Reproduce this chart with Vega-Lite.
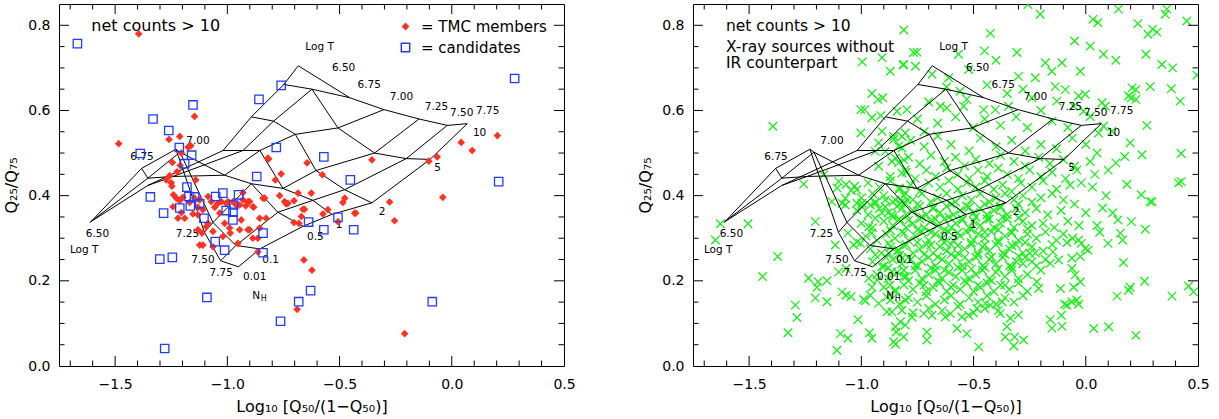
{
"$schema":"https://vega.github.io/schema/vega-lite/v6.json",
"background":"white",
"padding":{"left":3,"top":3,"right":0,"bottom":0},
"spacing":61,
"config":{
 "view":{"stroke":"black","strokeWidth":1},
 "axis":{"domain":false,"ticks":false,"labelColor":"black","titleColor":"black","labelFont":"DejaVu Sans","titleFont":"DejaVu Sans","labelFontSize":14,"titleFontSize":16,"titleFontWeight":"normal","grid":false,"labelFlush":false,"labelOverlap":false}
},
"datasets":{
 "xa":[{"v":-1.5},{"v":-1.0},{"v":-0.5},{"v":0.0}],
 "xb":[{"v":-1.7},{"v":-1.6},{"v":-1.4},{"v":-1.3},{"v":-1.2},{"v":-1.1},{"v":-0.9},{"v":-0.8},{"v":-0.7},{"v":-0.6},{"v":-0.4},{"v":-0.3},{"v":-0.2},{"v":-0.1},{"v":0.1},{"v":0.2},{"v":0.3},{"v":0.4}],
 "ya":[{"v":0.2},{"v":0.4},{"v":0.6},{"v":0.8}],
 "yb":[{"v":0.05},{"v":0.1},{"v":0.15},{"v":0.25},{"v":0.3},{"v":0.35},{"v":0.45},{"v":0.5},{"v":0.55},{"v":0.65},{"v":0.7},{"v":0.75}],
 "grid":[
  {"nh":10,"t":6.5,"x":-0.684,"y":0.705},{"nh":10,"t":6.75,"x":-0.455,"y":0.630},{"nh":10,"t":7.0,"x":-0.302,"y":0.602},{"nh":10,"t":7.25,"x":-0.146,"y":0.580},{"nh":10,"t":7.5,"x":-0.020,"y":0.565},{"nh":10,"t":7.75,"x":0.069,"y":0.569},
  {"nh":5,"t":6.5,"x":-0.748,"y":0.661},{"nh":5,"t":6.75,"x":-0.623,"y":0.650},{"nh":5,"t":7.0,"x":-0.507,"y":0.559},{"nh":5,"t":7.25,"x":-0.344,"y":0.500},{"nh":5,"t":7.5,"x":-0.203,"y":0.487},{"nh":5,"t":7.75,"x":-0.097,"y":0.485},
  {"nh":2,"t":6.5,"x":-0.893,"y":0.585},{"nh":2,"t":6.75,"x":-0.794,"y":0.575},{"nh":2,"t":7.0,"x":-0.697,"y":0.544},{"nh":2,"t":7.25,"x":-0.605,"y":0.459},{"nh":2,"t":7.5,"x":-0.477,"y":0.414},{"nh":2,"t":7.75,"x":-0.356,"y":0.383},
  {"nh":1,"t":6.5,"x":-1.019,"y":0.506},{"nh":1,"t":6.75,"x":-0.930,"y":0.506},{"nh":1,"t":7.0,"x":-0.855,"y":0.506},{"nh":1,"t":7.25,"x":-0.752,"y":0.417},{"nh":1,"t":7.5,"x":-0.619,"y":0.389},{"nh":1,"t":7.75,"x":-0.534,"y":0.356},
  {"nh":0.5,"t":6.5,"x":-1.354,"y":0.424},{"nh":0.5,"t":6.75,"x":-1.242,"y":0.445},{"nh":0.5,"t":7.0,"x":-1.012,"y":0.448},{"nh":0.5,"t":7.25,"x":-0.893,"y":0.428},{"nh":0.5,"t":7.5,"x":-0.775,"y":0.361},{"nh":0.5,"t":7.75,"x":-0.663,"y":0.328},
  {"nh":0.1,"t":6.5,"x":-1.608,"y":0.339},{"nh":0.1,"t":6.75,"x":-1.354,"y":0.441},{"nh":0.1,"t":7.0,"x":-1.211,"y":0.502},{"nh":0.1,"t":7.25,"x":-1.064,"y":0.337},{"nh":0.1,"t":7.5,"x":-0.962,"y":0.283},{"nh":0.1,"t":7.75,"x":-0.855,"y":0.275},
  {"nh":0.01,"t":6.5,"x":-1.611,"y":0.337},{"nh":0.01,"t":6.75,"x":-1.382,"y":0.464},{"nh":0.01,"t":7.0,"x":-1.229,"y":0.509},{"nh":0.01,"t":7.25,"x":-1.102,"y":0.314},{"nh":0.01,"t":7.5,"x":-1.030,"y":0.247},{"nh":0.01,"t":7.75,"x":-0.950,"y":0.233}
 ],
 "glabels":[
  {"x":-0.589,"y":0.749,"text":"Log T"},{"x":-0.482,"y":0.699,"text":"6.50"},{"x":-0.368,"y":0.659,"text":"6.75"},{"x":-0.224,"y":0.631,"text":"7.00"},{"x":-0.068,"y":0.608,"text":"7.25"},{"x":0.044,"y":0.594,"text":"7.50"},{"x":0.160,"y":0.598,"text":"7.75"},
  {"x":0.124,"y":0.547,"text":"10"},{"x":-0.063,"y":0.465,"text":"5"},{"x":-0.310,"y":0.361,"text":"2"},{"x":-0.502,"y":0.332,"text":"1"},{"x":-0.608,"y":0.304,"text":"0.5"},{"x":-0.807,"y":0.248,"text":"0.1"},{"x":-0.878,"y":0.210,"text":"0.01"},{"x":-0.871,"y":0.165,"text":"N"},
  {"x":-1.027,"y":0.219,"text":"7.75"},{"x":-1.109,"y":0.249,"text":"7.50"},{"x":-1.178,"y":0.310,"text":"7.25"},{"x":-1.579,"y":0.310,"text":"6.50"},{"x":-1.638,"y":0.272,"text":"Log T"},{"x":-1.380,"y":0.491,"text":"6.75"},{"x":-1.131,"y":0.529,"text":"7.00"}
 ],
 "sublabels":[{"x":-0.838,"y":0.158,"text":"H"}],
 "textleft":[{"x":-1.606,"y":0.798,"text":"net counts > 10"}],
 "textright":[{"x":-1.603,"y":0.798,"text":"net counts > 10"},{"x":-1.603,"y":0.748,"text":"X-ray sources without"},{"x":-1.603,"y":0.711,"text":"IR counterpart"}],
 "pts":[
  {"s":"m","x":-1.395,"y":0.780},{"s":"m","x":-1.146,"y":0.586},{"s":"m","x":-1.484,"y":0.522},{"s":"m","x":-1.212,"y":0.539},{"s":"m","x":-1.260,"y":0.532},{"s":"m","x":-1.163,"y":0.517},{"s":"m","x":-1.175,"y":0.514},{"s":"m","x":-1.205,"y":0.500},{"s":"m","x":-1.245,"y":0.478},{"s":"m","x":-1.224,"y":0.456},
  {"s":"m","x":-1.210,"y":0.471},{"s":"m","x":-1.257,"y":0.447},{"s":"m","x":-1.250,"y":0.430},{"s":"m","x":-1.272,"y":0.437},{"s":"m","x":-1.141,"y":0.437},{"s":"m","x":-1.247,"y":0.422},{"s":"m","x":-1.240,"y":0.402},{"s":"m","x":-1.227,"y":0.394},{"s":"m","x":-1.212,"y":0.388},{"s":"m","x":-1.198,"y":0.396},
  {"s":"m","x":-1.168,"y":0.384},{"s":"m","x":-1.146,"y":0.394},{"s":"m","x":-1.123,"y":0.390},{"s":"m","x":-1.131,"y":0.373},{"s":"m","x":-1.242,"y":0.374},{"s":"m","x":-1.205,"y":0.360},{"s":"m","x":-1.220,"y":0.347},{"s":"m","x":-1.153,"y":0.357},{"s":"m","x":-1.109,"y":0.367},{"s":"m","x":-1.086,"y":0.398},
  {"s":"m","x":-1.072,"y":0.386},{"s":"m","x":-1.056,"y":0.373},{"s":"m","x":-1.034,"y":0.359},{"s":"m","x":-1.086,"y":0.335},{"s":"m","x":-1.131,"y":0.320},{"s":"m","x":-1.064,"y":0.316},{"s":"m","x":-1.109,"y":0.284},{"s":"m","x":-1.113,"y":0.312},{"s":"m","x":-1.094,"y":0.327},{"s":"m","x":-1.064,"y":0.280},
  {"s":"m","x":-1.042,"y":0.382},{"s":"m","x":-0.997,"y":0.386},{"s":"m","x":-0.975,"y":0.386},{"s":"m","x":-0.945,"y":0.378},{"s":"m","x":-0.918,"y":0.376},{"s":"m","x":-0.901,"y":0.386},{"s":"m","x":-0.883,"y":0.373},{"s":"m","x":-0.930,"y":0.390},{"s":"m","x":-1.012,"y":0.335},{"s":"m","x":-0.990,"y":0.324},
  {"s":"m","x":-0.945,"y":0.320},{"s":"m","x":-0.901,"y":0.320},{"s":"m","x":-0.886,"y":0.300},{"s":"m","x":-0.856,"y":0.324},{"s":"m","x":-0.827,"y":0.347},{"s":"m","x":-0.856,"y":0.347},{"s":"m","x":-0.834,"y":0.394},{"s":"m","x":-0.819,"y":0.488},{"s":"m","x":-0.864,"y":0.268},{"s":"m","x":-0.953,"y":0.288},
  {"s":"m","x":-0.987,"y":0.312},{"s":"m","x":-0.938,"y":0.343},{"s":"m","x":-1.020,"y":0.304},{"s":"m","x":-0.864,"y":0.300},{"s":"m","x":-0.841,"y":0.394},{"s":"m","x":-0.767,"y":0.400},{"s":"m","x":-0.738,"y":0.381},{"s":"m","x":-0.685,"y":0.406},{"s":"m","x":-0.703,"y":0.388},{"s":"m","x":-0.626,"y":0.406},
  {"s":"m","x":-0.656,"y":0.368},{"s":"m","x":-0.574,"y":0.357},{"s":"m","x":-0.552,"y":0.367},{"s":"m","x":-0.485,"y":0.384},{"s":"m","x":-0.477,"y":0.394},{"s":"m","x":-0.433,"y":0.359},{"s":"m","x":-0.277,"y":0.385},{"s":"m","x":-0.255,"y":0.341},{"s":"m","x":-0.659,"y":0.249},{"s":"m","x":-0.623,"y":0.225},
  {"s":"m","x":-0.689,"y":0.133},{"s":"m","x":-0.210,"y":0.076},{"s":"m","x":-0.816,"y":0.486},{"s":"m","x":-0.760,"y":0.451},{"s":"m","x":-0.786,"y":0.437},{"s":"m","x":-0.645,"y":0.477},{"s":"m","x":-0.577,"y":0.449},{"s":"m","x":-0.356,"y":0.484},{"s":"m","x":0.203,"y":0.541},{"s":"m","x":0.042,"y":0.525},
  {"s":"m","x":0.091,"y":0.506},{"s":"m","x":-0.065,"y":0.491},{"s":"m","x":-0.102,"y":0.481},{"s":"m","x":-0.040,"y":0.396},{"s":"m","x":-0.730,"y":0.382},{"s":"m","x":-0.663,"y":0.368},{"s":"m","x":-0.670,"y":0.351},{"s":"m","x":-0.703,"y":0.337},{"s":"m","x":-0.681,"y":0.335},{"s":"m","x":-0.428,"y":0.359},
  {"s":"m","x":-0.507,"y":0.339},{"s":"m","x":-1.190,"y":0.347},{"s":"m","x":-1.131,"y":0.355},{"s":"m","x":-1.123,"y":0.284},{"s":"m","x":-0.908,"y":0.386},{"s":"m","x":-0.886,"y":0.374},{"s":"m","x":-0.960,"y":0.378},{"s":"m","x":-1.005,"y":0.382},{"s":"m","x":-1.027,"y":0.386},{"s":"m","x":-0.930,"y":0.407},
  {"s":"m","x":-0.745,"y":0.386},{"s":"m","x":-0.908,"y":0.320},
  {"s":"c","x":-1.668,"y":0.757},{"s":"c","x":-0.760,"y":0.659},{"s":"c","x":-0.859,"y":0.626},{"s":"c","x":-1.153,"y":0.613},{"s":"c","x":-1.331,"y":0.580},{"s":"c","x":-1.261,"y":0.553},{"s":"c","x":-1.214,"y":0.513},{"s":"c","x":-1.159,"y":0.495},{"s":"c","x":-1.388,"y":0.499},{"s":"c","x":-1.190,"y":0.475},
  {"s":"c","x":-0.782,"y":0.513},{"s":"c","x":-0.869,"y":0.445},{"s":"c","x":-1.180,"y":0.420},{"s":"c","x":-1.343,"y":0.397},{"s":"c","x":-1.171,"y":0.398},{"s":"c","x":-1.146,"y":0.397},{"s":"c","x":-1.123,"y":0.381},{"s":"c","x":-1.052,"y":0.398},{"s":"c","x":-1.020,"y":0.406},{"s":"c","x":-0.950,"y":0.402},
  {"s":"c","x":0.280,"y":0.675},{"s":"c","x":0.209,"y":0.433},{"s":"c","x":-0.570,"y":0.491},{"s":"c","x":-0.452,"y":0.437},{"s":"c","x":-0.507,"y":0.349},{"s":"c","x":-0.638,"y":0.338},{"s":"c","x":-0.570,"y":0.320},{"s":"c","x":-0.437,"y":0.320},{"s":"c","x":-0.629,"y":0.177},{"s":"c","x":-0.682,"y":0.151},
  {"s":"c","x":-0.087,"y":0.151},{"s":"c","x":-1.284,"y":0.359},{"s":"c","x":-1.212,"y":0.371},{"s":"c","x":-1.165,"y":0.376},{"s":"c","x":-1.104,"y":0.347},{"s":"c","x":-1.054,"y":0.292},{"s":"c","x":-1.012,"y":0.272},{"s":"c","x":-1.005,"y":0.365},{"s":"c","x":-0.975,"y":0.361},{"s":"c","x":-0.975,"y":0.343},
  {"s":"c","x":-0.972,"y":0.378},{"s":"c","x":-0.841,"y":0.312},{"s":"c","x":-0.841,"y":0.266},{"s":"c","x":-1.301,"y":0.251},{"s":"c","x":-1.245,"y":0.255},{"s":"c","x":-1.091,"y":0.161},{"s":"c","x":-0.763,"y":0.105},{"s":"c","x":-1.279,"y":0.041}
 ],
 "green":[
  {"x":-0.811,"y":0.789},{"x":-0.996,"y":0.714},{"x":-0.908,"y":0.724},{"x":-0.871,"y":0.692},{"x":-0.815,"y":0.707},{"x":-0.953,"y":0.640},{"x":-0.926,"y":0.626},{"x":-0.905,"y":0.630},{"x":-1.002,"y":0.602},{"x":-0.985,"y":0.602},
  {"x":-0.953,"y":0.583},{"x":-0.913,"y":0.588},{"x":-0.841,"y":0.598},{"x":-0.797,"y":0.602},{"x":-1.394,"y":0.563},{"x":-1.002,"y":0.547},{"x":-0.908,"y":0.551},{"x":-0.856,"y":0.539},{"x":-0.819,"y":0.539},{"x":-0.804,"y":0.547},
  {"x":-0.923,"y":0.524},{"x":-0.893,"y":0.504},{"x":-0.938,"y":0.504},{"x":-0.856,"y":0.532},{"x":-0.834,"y":0.516},{"x":-0.819,"y":0.512},{"x":-0.923,"y":0.469},{"x":-0.864,"y":0.480},{"x":-0.848,"y":0.488},{"x":-0.834,"y":0.477},
  {"x":-0.811,"y":0.484},{"x":-0.819,"y":0.453},{"x":-0.871,"y":0.445},{"x":-0.804,"y":0.461},{"x":-1.257,"y":0.427},{"x":-1.168,"y":0.449},{"x":-1.101,"y":0.433},{"x":-1.068,"y":0.426},{"x":-1.108,"y":0.418},{"x":-1.030,"y":0.422},
  {"x":-1.020,"y":0.414},{"x":-1.045,"y":0.412},{"x":-1.071,"y":0.394},{"x":-1.086,"y":0.382},{"x":-1.020,"y":0.382},{"x":-0.997,"y":0.382},{"x":-0.960,"y":0.378},{"x":-0.938,"y":0.386},{"x":-0.893,"y":0.390},{"x":-0.848,"y":0.390},
  {"x":-0.826,"y":0.382},{"x":-0.797,"y":0.390},{"x":-0.831,"y":0.418},{"x":-0.804,"y":0.406},{"x":-0.258,"y":0.849},{"x":-0.203,"y":0.826},{"x":-0.425,"y":0.781},{"x":-0.767,"y":0.736},{"x":-0.752,"y":0.737},{"x":-0.811,"y":0.708},
  {"x":-0.759,"y":0.704},{"x":-0.567,"y":0.732},{"x":-0.451,"y":0.740},{"x":-0.400,"y":0.718},{"x":-0.307,"y":0.736},{"x":0.146,"y":0.838},{"x":0.032,"y":0.814},{"x":0.054,"y":0.806},{"x":0.232,"y":0.804},{"x":0.354,"y":0.826},
  {"x":0.361,"y":0.838},{"x":0.450,"y":0.810},{"x":0.298,"y":0.791},{"x":0.317,"y":0.784},{"x":0.277,"y":0.779},{"x":-0.050,"y":0.763},{"x":0.020,"y":0.751},{"x":0.079,"y":0.732},{"x":0.134,"y":0.718},{"x":0.268,"y":0.732},
  {"x":0.339,"y":0.708},{"x":0.387,"y":0.700},{"x":0.495,"y":0.683},{"x":0.287,"y":0.656},{"x":0.381,"y":0.651},{"x":0.421,"y":0.622},{"x":0.206,"y":0.653},{"x":0.223,"y":0.649},{"x":0.191,"y":0.634},{"x":0.203,"y":0.630},
  {"x":0.223,"y":0.626},{"x":0.272,"y":0.565},{"x":0.198,"y":0.524},{"x":0.250,"y":0.496},{"x":0.425,"y":0.499},{"x":0.173,"y":0.492},{"x":0.134,"y":0.477},{"x":0.425,"y":0.433},{"x":0.413,"y":0.430},{"x":0.183,"y":0.426},
  {"x":0.247,"y":0.402},{"x":0.295,"y":0.386},{"x":-0.685,"y":0.685},{"x":-0.611,"y":0.677},{"x":-0.522,"y":0.696},{"x":-0.530,"y":0.626},{"x":-0.648,"y":0.610},{"x":-0.619,"y":0.606},{"x":-0.544,"y":0.610},{"x":-0.455,"y":0.602},
  {"x":-0.403,"y":0.602},{"x":-0.344,"y":0.610},{"x":-0.225,"y":0.677},{"x":-0.180,"y":0.712},{"x":-0.151,"y":0.692},{"x":-0.106,"y":0.712},{"x":-0.024,"y":0.692},{"x":-0.091,"y":0.649},{"x":-0.136,"y":0.656},{"x":-0.129,"y":0.622},
  {"x":-0.032,"y":0.634},{"x":-0.002,"y":0.638},{"x":-0.054,"y":0.610},{"x":-0.010,"y":0.598},{"x":0.072,"y":0.618},{"x":0.087,"y":0.610},{"x":0.020,"y":0.586},{"x":0.057,"y":0.547},{"x":0.079,"y":0.563},{"x":0.116,"y":0.551},
  {"x":-1.628,"y":0.334},{"x":-1.505,"y":0.334},{"x":-1.650,"y":0.296},{"x":-1.373,"y":0.257},{"x":-1.440,"y":0.210},{"x":-1.235,"y":0.206},{"x":-1.193,"y":0.198},{"x":-1.198,"y":0.185},{"x":-1.153,"y":0.200},{"x":-1.205,"y":0.160},
  {"x":-1.153,"y":0.151},{"x":-1.294,"y":0.143},{"x":-1.287,"y":0.114},{"x":-1.327,"y":0.078},{"x":-1.205,"y":0.339},{"x":-1.116,"y":0.284},{"x":-1.101,"y":0.221},{"x":-1.086,"y":0.174},{"x":-1.068,"y":0.166},{"x":-1.046,"y":0.163},
  {"x":-1.093,"y":0.076},{"x":-1.060,"y":0.065},{"x":-1.109,"y":0.037},{"x":-1.015,"y":0.109},{"x":-0.990,"y":0.156},{"x":-0.982,"y":0.153},{"x":-0.960,"y":0.166},{"x":-0.953,"y":0.185},{"x":-0.964,"y":0.078},{"x":-0.953,"y":0.065},
  {"x":-0.886,"y":0.127},{"x":-0.864,"y":0.127},{"x":-0.848,"y":0.092},{"x":-0.845,"y":0.080},{"x":-0.856,"y":0.057},{"x":-0.848,"y":0.051},{"x":-0.811,"y":0.068},{"x":-1.019,"y":0.291},{"x":-1.060,"y":0.312},{"x":-1.034,"y":0.284},
  {"x":-1.004,"y":0.288},{"x":-1.068,"y":0.229},{"x":-0.938,"y":0.261},{"x":-0.878,"y":0.265},{"x":-0.834,"y":0.272},{"x":-0.819,"y":0.253},{"x":-0.908,"y":0.233},{"x":-0.864,"y":0.221},{"x":-0.967,"y":0.206},{"x":-0.930,"y":0.202},
  {"x":-0.871,"y":0.190},{"x":-0.848,"y":0.178},{"x":-0.811,"y":0.210},{"x":-0.804,"y":0.155},{"x":-0.819,"y":0.131},{"x":-0.886,"y":0.162},{"x":-0.923,"y":0.147},{"x":-0.967,"y":0.327},{"x":-0.953,"y":0.312},{"x":-0.938,"y":0.347},
  {"x":-0.908,"y":0.359},{"x":-0.864,"y":0.355},{"x":-0.834,"y":0.343},{"x":-0.819,"y":0.371},{"x":-0.804,"y":0.382},{"x":-0.938,"y":0.382},{"x":-0.893,"y":0.374},{"x":-0.997,"y":0.374},{"x":-1.071,"y":0.378},{"x":-1.131,"y":0.386},
  {"x":0.075,"y":0.371},{"x":0.287,"y":0.386},{"x":0.143,"y":0.343},{"x":0.203,"y":0.339},{"x":0.062,"y":0.314},{"x":0.099,"y":0.288},{"x":0.154,"y":0.312},{"x":0.164,"y":0.296},{"x":0.265,"y":0.321},{"x":0.168,"y":0.243},
  {"x":0.262,"y":0.199},{"x":0.198,"y":0.185},{"x":0.191,"y":0.178},{"x":0.139,"y":0.164},{"x":0.384,"y":0.164},{"x":0.458,"y":0.188},{"x":0.480,"y":0.174},{"x":0.035,"y":0.088},{"x":0.102,"y":0.092},{"x":0.223,"y":0.072},
  {"x":-0.106,"y":0.093},{"x":-0.158,"y":0.109},{"x":-0.151,"y":0.089},{"x":-0.109,"y":0.119},{"x":-0.094,"y":0.145},{"x":-0.084,"y":0.143},{"x":-0.062,"y":0.151},{"x":-0.040,"y":0.155},{"x":-0.032,"y":0.145},{"x":-0.113,"y":0.182},
  {"x":-0.054,"y":0.185},{"x":-0.024,"y":0.198},{"x":-0.047,"y":0.214},{"x":-0.062,"y":0.229},{"x":-0.024,"y":0.257},{"x":-0.062,"y":0.253},{"x":-0.002,"y":0.276},{"x":-0.020,"y":0.288},{"x":0.010,"y":0.272},{"x":-0.059,"y":0.300},
  {"x":-0.084,"y":0.290},{"x":-0.032,"y":0.296},{"x":-0.146,"y":0.268},{"x":-0.121,"y":0.249},{"x":-0.158,"y":0.241},{"x":-0.225,"y":0.265},{"x":-0.240,"y":0.245},{"x":-0.218,"y":0.198},{"x":-0.210,"y":0.182},{"x":-0.317,"y":0.068},
  {"x":-0.277,"y":0.061},{"x":-0.321,"y":0.047},{"x":-0.359,"y":0.068},{"x":-0.351,"y":0.092},{"x":-0.336,"y":0.112},{"x":-0.381,"y":0.123},{"x":-0.477,"y":0.045},{"x":-0.530,"y":0.076},{"x":-0.574,"y":0.088},{"x":-0.708,"y":0.080},
  {"x":-0.708,"y":0.061},{"x":-0.722,"y":0.123},{"x":-0.685,"y":0.119},{"x":-0.626,"y":0.115},{"x":-0.603,"y":0.123},{"x":-0.552,"y":0.115},{"x":-0.522,"y":0.119},{"x":-0.485,"y":0.135},{"x":-0.447,"y":0.147},{"x":-0.425,"y":0.143},
  {"x":-0.373,"y":0.151},{"x":-0.774,"y":0.115},{"x":-0.804,"y":0.096},{"x":-0.826,"y":0.104},
  {"x":-0.78,"y":0.53},{"x":-0.72,"y":0.515},{"x":-0.66,"y":0.54},{"x":-0.6,"y":0.52},{"x":-0.52,"y":0.505},{"x":-0.47,"y":0.535},{"x":-0.4,"y":0.515},{"x":-0.33,"y":0.53},{"x":-0.27,"y":0.505},{"x":-0.2,"y":0.52},{"x":-0.13,"y":0.51},{"x":-0.06,"y":0.535},
  {"x":-0.79,"y":0.49},{"x":-0.74,"y":0.475},{"x":-0.69,"y":0.495},{"x":-0.63,"y":0.48},{"x":-0.58,"y":0.49},{"x":-0.54,"y":0.47},{"x":-0.49,"y":0.485},{"x":-0.43,"y":0.475},{"x":-0.38,"y":0.495},{"x":-0.32,"y":0.48},{"x":-0.27,"y":0.47},{"x":-0.21,"y":0.49},{"x":-0.16,"y":0.475},{"x":-0.1,"y":0.485},{"x":-0.05,"y":0.47},{"x":0.02,"y":0.48},
  {"x":-0.8,"y":0.455},{"x":-0.76,"y":0.44},{"x":-0.71,"y":0.46},{"x":-0.67,"y":0.445},{"x":-0.62,"y":0.465},{"x":-0.57,"y":0.45},{"x":-0.52,"y":0.44},{"x":-0.48,"y":0.46},{"x":-0.44,"y":0.445},{"x":-0.39,"y":0.465},{"x":-0.35,"y":0.45},{"x":-0.3,"y":0.44},{"x":-0.25,"y":0.46},{"x":-0.2,"y":0.445},{"x":-0.15,"y":0.455},{"x":-0.09,"y":0.44},{"x":-0.04,"y":0.46},{"x":0.04,"y":0.45},
  {"x":-0.97,"y":0.43},{"x":-0.92,"y":0.42},{"x":-0.87,"y":0.435},{"x":-0.83,"y":0.415},{"x":-0.78,"y":0.425},{"x":-0.74,"y":0.41},{"x":-0.7,"y":0.43},{"x":-0.65,"y":0.42},{"x":-0.61,"y":0.435},{"x":-0.57,"y":0.415},{"x":-0.53,"y":0.43},{"x":-0.49,"y":0.42},{"x":-0.45,"y":0.435},{"x":-0.41,"y":0.415},{"x":-0.37,"y":0.425},{"x":-0.33,"y":0.41},{"x":-0.29,"y":0.43},{"x":-0.24,"y":0.42},{"x":-0.19,"y":0.435},{"x":-0.13,"y":0.415},{"x":-0.07,"y":0.425},{"x":-0.02,"y":0.43},
  {"x":-1.0,"y":0.395},{"x":-0.95,"y":0.405},{"x":-0.9,"y":0.4},{"x":-0.86,"y":0.385},{"x":-0.81,"y":0.4},{"x":-0.77,"y":0.39},{"x":-0.73,"y":0.405},{"x":-0.69,"y":0.385},{"x":-0.66,"y":0.395},{"x":-0.62,"y":0.405},{"x":-0.58,"y":0.385},{"x":-0.55,"y":0.4},{"x":-0.51,"y":0.39},{"x":-0.47,"y":0.405},{"x":-0.43,"y":0.385},{"x":-0.4,"y":0.395},{"x":-0.36,"y":0.405},{"x":-0.32,"y":0.39},{"x":-0.28,"y":0.4},{"x":-0.24,"y":0.385},{"x":-0.2,"y":0.395},{"x":-0.15,"y":0.405},{"x":-0.1,"y":0.39},{"x":-0.05,"y":0.38},
  {"x":-1.02,"y":0.365},{"x":-0.97,"y":0.355},{"x":-0.92,"y":0.37},{"x":-0.88,"y":0.36},{"x":-0.84,"y":0.375},{"x":-0.8,"y":0.355},{"x":-0.77,"y":0.365},{"x":-0.74,"y":0.375},{"x":-0.71,"y":0.355},{"x":-0.68,"y":0.37},{"x":-0.65,"y":0.36},{"x":-0.62,"y":0.375},{"x":-0.59,"y":0.355},{"x":-0.56,"y":0.365},{"x":-0.53,"y":0.375},{"x":-0.5,"y":0.36},{"x":-0.47,"y":0.37},{"x":-0.44,"y":0.355},{"x":-0.41,"y":0.365},{"x":-0.38,"y":0.375},{"x":-0.35,"y":0.355},{"x":-0.31,"y":0.37},{"x":-0.27,"y":0.36},{"x":-0.22,"y":0.37},{"x":-0.17,"y":0.355},{"x":-0.11,"y":0.365},
  {"x":-1.0,"y":0.335},{"x":-0.95,"y":0.325},{"x":-0.9,"y":0.34},{"x":-0.86,"y":0.33},{"x":-0.83,"y":0.345},{"x":-0.8,"y":0.325},{"x":-0.77,"y":0.335},{"x":-0.74,"y":0.345},{"x":-0.72,"y":0.325},{"x":-0.69,"y":0.34},{"x":-0.66,"y":0.33},{"x":-0.63,"y":0.345},{"x":-0.6,"y":0.325},{"x":-0.58,"y":0.335},{"x":-0.55,"y":0.345},{"x":-0.52,"y":0.325},{"x":-0.5,"y":0.34},{"x":-0.47,"y":0.33},{"x":-0.44,"y":0.345},{"x":-0.41,"y":0.325},{"x":-0.38,"y":0.335},{"x":-0.35,"y":0.345},{"x":-0.32,"y":0.325},{"x":-0.28,"y":0.34},{"x":-0.24,"y":0.33},{"x":-0.19,"y":0.335},{"x":-0.14,"y":0.325},{"x":-0.08,"y":0.34},
  {"x":-0.98,"y":0.305},{"x":-0.93,"y":0.295},{"x":-0.89,"y":0.31},{"x":-0.85,"y":0.3},{"x":-0.82,"y":0.315},{"x":-0.79,"y":0.295},{"x":-0.76,"y":0.305},{"x":-0.73,"y":0.315},{"x":-0.7,"y":0.295},{"x":-0.67,"y":0.31},{"x":-0.64,"y":0.3},{"x":-0.61,"y":0.315},{"x":-0.59,"y":0.295},{"x":-0.56,"y":0.305},{"x":-0.53,"y":0.315},{"x":-0.5,"y":0.295},{"x":-0.48,"y":0.31},{"x":-0.45,"y":0.3},{"x":-0.42,"y":0.315},{"x":-0.39,"y":0.295},{"x":-0.36,"y":0.305},{"x":-0.33,"y":0.315},{"x":-0.3,"y":0.295},{"x":-0.26,"y":0.31},{"x":-0.22,"y":0.3},{"x":-0.18,"y":0.315},{"x":-0.13,"y":0.295},{"x":-0.1,"y":0.31},
  {"x":-0.96,"y":0.275},{"x":-0.91,"y":0.265},{"x":-0.87,"y":0.28},{"x":-0.84,"y":0.27},{"x":-0.8,"y":0.285},{"x":-0.77,"y":0.265},{"x":-0.74,"y":0.275},{"x":-0.71,"y":0.285},{"x":-0.68,"y":0.265},{"x":-0.65,"y":0.28},{"x":-0.62,"y":0.27},{"x":-0.6,"y":0.285},{"x":-0.57,"y":0.265},{"x":-0.54,"y":0.275},{"x":-0.51,"y":0.285},{"x":-0.48,"y":0.265},{"x":-0.46,"y":0.28},{"x":-0.43,"y":0.27},{"x":-0.4,"y":0.285},{"x":-0.37,"y":0.265},{"x":-0.34,"y":0.275},{"x":-0.31,"y":0.285},{"x":-0.28,"y":0.265},{"x":-0.24,"y":0.28},{"x":-0.19,"y":0.27},{"x":-0.15,"y":0.285},
  {"x":-0.95,"y":0.245},{"x":-0.9,"y":0.235},{"x":-0.86,"y":0.25},{"x":-0.82,"y":0.24},{"x":-0.79,"y":0.255},{"x":-0.76,"y":0.235},{"x":-0.73,"y":0.245},{"x":-0.7,"y":0.255},{"x":-0.67,"y":0.235},{"x":-0.64,"y":0.25},{"x":-0.61,"y":0.24},{"x":-0.58,"y":0.255},{"x":-0.55,"y":0.235},{"x":-0.52,"y":0.245},{"x":-0.49,"y":0.255},{"x":-0.46,"y":0.235},{"x":-0.43,"y":0.25},{"x":-0.4,"y":0.24},{"x":-0.37,"y":0.255},{"x":-0.34,"y":0.235},{"x":-0.31,"y":0.245},{"x":-0.27,"y":0.255},{"x":-0.22,"y":0.235},{"x":-0.18,"y":0.25},
  {"x":-0.93,"y":0.215},{"x":-0.88,"y":0.205},{"x":-0.84,"y":0.22},{"x":-0.8,"y":0.21},{"x":-0.76,"y":0.225},{"x":-0.73,"y":0.205},{"x":-0.7,"y":0.215},{"x":-0.67,"y":0.225},{"x":-0.64,"y":0.205},{"x":-0.61,"y":0.22},{"x":-0.58,"y":0.21},{"x":-0.55,"y":0.225},{"x":-0.52,"y":0.205},{"x":-0.49,"y":0.215},{"x":-0.46,"y":0.225},{"x":-0.43,"y":0.205},{"x":-0.4,"y":0.22},{"x":-0.36,"y":0.21},{"x":-0.33,"y":0.225},{"x":-0.3,"y":0.205},{"x":-0.26,"y":0.215},{"x":-0.2,"y":0.225},
  {"x":-0.9,"y":0.185},{"x":-0.85,"y":0.175},{"x":-0.81,"y":0.19},{"x":-0.77,"y":0.18},{"x":-0.74,"y":0.195},{"x":-0.71,"y":0.175},{"x":-0.68,"y":0.185},{"x":-0.65,"y":0.195},{"x":-0.62,"y":0.175},{"x":-0.59,"y":0.19},{"x":-0.56,"y":0.18},{"x":-0.53,"y":0.195},{"x":-0.5,"y":0.175},{"x":-0.47,"y":0.185},{"x":-0.44,"y":0.195},{"x":-0.41,"y":0.175},{"x":-0.38,"y":0.19},{"x":-0.34,"y":0.18},{"x":-0.3,"y":0.195},{"x":-0.26,"y":0.175},
  {"x":-0.87,"y":0.155},{"x":-0.83,"y":0.145},{"x":-0.79,"y":0.16},{"x":-0.75,"y":0.15},{"x":-0.71,"y":0.165},{"x":-0.67,"y":0.145},{"x":-0.63,"y":0.155},{"x":-0.6,"y":0.165},{"x":-0.56,"y":0.145},{"x":-0.52,"y":0.16},{"x":-0.48,"y":0.15},{"x":-0.44,"y":0.165},{"x":-0.4,"y":0.145},{"x":-0.36,"y":0.16},{"x":-0.32,"y":0.15},{"x":-0.28,"y":0.165},
  {"x":-0.77,"y":0.125},{"x":-0.7,"y":0.135},{"x":-0.64,"y":0.13},{"x":-0.57,"y":0.14},{"x":-0.5,"y":0.125},{"x":-0.45,"y":0.135},{"x":-0.39,"y":0.13},{"x":-0.3,"y":0.12},
  {"x":-0.75,"y":0.58},{"x":-0.7,"y":0.62},{"x":-0.66,"y":0.57},{"x":-0.58,"y":0.585},{"x":-0.5,"y":0.56},{"x":-0.45,"y":0.58},{"x":-0.38,"y":0.565},{"x":-0.31,"y":0.585},{"x":-0.26,"y":0.56},{"x":-0.2,"y":0.6},{"x":-0.15,"y":0.575},{"x":-0.08,"y":0.56},{"x":-0.35,"y":0.64},{"x":-0.28,"y":0.65},{"x":-0.62,"y":0.655},{"x":-0.72,"y":0.55},{"x":-0.56,"y":0.645},{"x":-0.44,"y":0.66},{"x":-0.3,"y":0.68},{"x":-0.24,"y":0.63},
  {"x":0.0,"y":0.52},{"x":0.05,"y":0.5},{"x":0.1,"y":0.46},{"x":0.03,"y":0.42},{"x":0.09,"y":0.4},{"x":0.12,"y":0.36},{"x":0.0,"y":0.36},{"x":0.05,"y":0.33},{"x":-0.03,"y":0.33},
  {"x":-0.79,"y":0.2},{"x":-0.72,"y":0.19},{"x":-0.66,"y":0.2},{"x":-0.6,"y":0.185},{"x":-0.54,"y":0.2},{"x":-0.48,"y":0.19},{"x":-0.42,"y":0.2},{"x":-0.36,"y":0.19},
  {"x":-0.88,"y":0.23},{"x":-0.81,"y":0.225},{"x":-0.75,"y":0.235},{"x":-0.69,"y":0.23},{"x":-0.63,"y":0.225},{"x":-0.57,"y":0.232},{"x":-0.51,"y":0.228},{"x":-0.45,"y":0.232},{"x":-0.39,"y":0.228},{"x":-0.33,"y":0.232},{"x":-0.28,"y":0.24},
  {"x":-0.89,"y":0.255},{"x":-0.83,"y":0.26},{"x":-0.78,"y":0.25},{"x":-0.72,"y":0.262},{"x":-0.66,"y":0.256},{"x":-0.6,"y":0.262},{"x":-0.54,"y":0.255},{"x":-0.48,"y":0.26},{"x":-0.42,"y":0.256},{"x":-0.36,"y":0.262},{"x":-0.3,"y":0.258},{"x":-0.25,"y":0.265},
  {"x":-0.88,"y":0.288},{"x":-0.81,"y":0.282},{"x":-0.75,"y":0.29},{"x":-0.69,"y":0.284},{"x":-0.63,"y":0.29},{"x":-0.57,"y":0.283},{"x":-0.51,"y":0.29},{"x":-0.45,"y":0.285},{"x":-0.39,"y":0.29},{"x":-0.33,"y":0.283},{"x":-0.27,"y":0.29},
  {"x":-0.87,"y":0.318},{"x":-0.81,"y":0.312},{"x":-0.75,"y":0.32},{"x":-0.69,"y":0.314},{"x":-0.63,"y":0.32},{"x":-0.57,"y":0.313},{"x":-0.51,"y":0.32},{"x":-0.45,"y":0.314},{"x":-0.39,"y":0.32},{"x":-0.33,"y":0.313},{"x":-0.26,"y":0.322},
  {"x":-0.86,"y":0.35},{"x":-0.79,"y":0.342},{"x":-0.73,"y":0.35},{"x":-0.67,"y":0.345},{"x":-0.61,"y":0.35},{"x":-0.55,"y":0.342},{"x":-0.49,"y":0.35},{"x":-0.43,"y":0.345},{"x":-0.37,"y":0.35},{"x":-0.3,"y":0.348},
  {"x":-0.75,"y":0.38},{"x":-0.68,"y":0.372},{"x":-0.6,"y":0.38},{"x":-0.52,"y":0.372},{"x":-0.45,"y":0.38},{"x":-0.38,"y":0.372},{"x":-0.3,"y":0.38}
 ]
},
"hconcat":[
 {
  "width":505,"height":362,
  "layer":[
   {"data":{"name":"grid"},"mark":{"type":"line","stroke":"black","strokeWidth":1},
    "encoding":{
     "x":{"field":"x","type":"quantitative","scale":{"domain":[-1.75,0.5],"nice":false,"zero":false},"axis":{"orient":"bottom","values":[-1.5,-1,-0.5,0,0.5],"format":".1f","labelPadding":11,"title":"Log₁₀ [Q₅₀/(1−Q₅₀)]","titlePadding":7}},
     "y":{"field":"y","type":"quantitative","scale":{"domain":[0,0.85],"nice":false,"zero":false},"axis":{"orient":"left","values":[0,0.2,0.4,0.6,0.8],"format":".1f","labelPadding":9,"title":"Q₂₅/Q₇₅","titlePadding":8}},
     "detail":{"field":"nh","type":"nominal"},"order":{"field":"t","type":"quantitative"}}},
   {"data":{"name":"grid"},"mark":{"type":"line","stroke":"black","strokeWidth":1},
    "encoding":{"x":{"field":"x","type":"quantitative"},"y":{"field":"y","type":"quantitative"},"detail":{"field":"t","type":"nominal"},"order":{"field":"nh","type":"quantitative"}}},
   {"data":{"name":"xa"},"mark":{"type":"rule","color":"black","strokeWidth":1},"encoding":{"x":{"field":"v","type":"quantitative"},"y":{"datum":0,"type":"quantitative"},"y2":{"datum":0.0235}}},
   {"data":{"name":"xa"},"mark":{"type":"rule","color":"black","strokeWidth":1},"encoding":{"x":{"field":"v","type":"quantitative"},"y":{"datum":0.85,"type":"quantitative"},"y2":{"datum":0.8265}}},
   {"data":{"name":"xb"},"mark":{"type":"rule","color":"black","strokeWidth":1},"encoding":{"x":{"field":"v","type":"quantitative"},"y":{"datum":0,"type":"quantitative"},"y2":{"datum":0.0129}}},
   {"data":{"name":"xb"},"mark":{"type":"rule","color":"black","strokeWidth":1},"encoding":{"x":{"field":"v","type":"quantitative"},"y":{"datum":0.85,"type":"quantitative"},"y2":{"datum":0.8371}}},
   {"data":{"name":"ya"},"mark":{"type":"rule","color":"black","strokeWidth":1},"encoding":{"y":{"field":"v","type":"quantitative"},"x":{"datum":-1.75,"type":"quantitative"},"x2":{"datum":-1.7055}}},
   {"data":{"name":"ya"},"mark":{"type":"rule","color":"black","strokeWidth":1},"encoding":{"y":{"field":"v","type":"quantitative"},"x":{"datum":0.5,"type":"quantitative"},"x2":{"datum":0.4555}}},
   {"data":{"name":"yb"},"mark":{"type":"rule","color":"black","strokeWidth":1},"encoding":{"y":{"field":"v","type":"quantitative"},"x":{"datum":-1.75,"type":"quantitative"},"x2":{"datum":-1.7255}}},
   {"data":{"name":"yb"},"mark":{"type":"rule","color":"black","strokeWidth":1},"encoding":{"y":{"field":"v","type":"quantitative"},"x":{"datum":0.5,"type":"quantitative"},"x2":{"datum":0.4755}}},
   {"data":{"name":"glabels"},"mark":{"type":"text","font":"DejaVu Sans","fontSize":10.5,"align":"center","baseline":"middle","color":"black"},
    "encoding":{"x":{"field":"x","type":"quantitative"},"y":{"field":"y","type":"quantitative"},"text":{"field":"text"}}},
   {"data":{"name":"sublabels"},"mark":{"type":"text","font":"DejaVu Sans","fontSize":8,"align":"center","baseline":"middle","color":"black"},
    "encoding":{"x":{"field":"x","type":"quantitative"},"y":{"field":"y","type":"quantitative"},"text":{"field":"text"}}},
   {"data":{"name":"textleft"},"mark":{"type":"text","font":"DejaVu Sans","fontSize":16,"align":"left","baseline":"middle","color":"black"},
    "encoding":{"x":{"field":"x","type":"quantitative"},"y":{"field":"y","type":"quantitative"},"text":{"field":"text"}}},
   {"data":{"name":"pts"},"mark":{"type":"point","strokeWidth":1.3,"opacity":1,"clip":true},
    "encoding":{
     "x":{"field":"x","type":"quantitative"},
     "y":{"field":"y","type":"quantitative"},
     "shape":{"field":"s","type":"nominal","scale":{"domain":["m","c"],"range":["diamond","square"]},"legend":{"title":null,"orient":"none","legendX":339,"legendY":15,"labelExpr":"datum.label == 'm' ? '=  TMC members' : '=  candidates'","labelFontSize":15,"labelFont":"DejaVu Sans","labelColor":"black","rowPadding":5,"labelOffset":8}},
     "fill":{"field":"s","type":"nominal","scale":{"domain":["m","c"],"range":["#ff3322","transparent"]},"legend":{"title":null,"orient":"none","legendX":339,"legendY":15,"labelExpr":"datum.label == 'm' ? '=  TMC members' : '=  candidates'","labelFontSize":15,"labelFont":"DejaVu Sans","labelColor":"black","rowPadding":5,"labelOffset":8}},
     "stroke":{"field":"s","type":"nominal","scale":{"domain":["m","c"],"range":["#ff3322","#1f3dff"]},"legend":{"title":null,"orient":"none","legendX":339,"legendY":15,"labelExpr":"datum.label == 'm' ? '=  TMC members' : '=  candidates'","labelFontSize":15,"labelFont":"DejaVu Sans","labelColor":"black","rowPadding":5,"labelOffset":8}},
     "size":{"field":"s","type":"nominal","scale":{"domain":["m","c"],"range":[34,70]},"legend":{"title":null,"orient":"none","legendX":339,"legendY":15,"labelExpr":"datum.label == 'm' ? '=  TMC members' : '=  candidates'","labelFontSize":15,"labelFont":"DejaVu Sans","labelColor":"black","rowPadding":5,"labelOffset":8}}}}
  ]
 },
 {
  "width":505,"height":362,
  "layer":[
   {"data":{"name":"green"},"mark":{"type":"point","shape":"M-1,-1L1,1M1,-1L-1,1","size":72,"stroke":"#19f019","strokeWidth":1.3,"filled":false,"opacity":1,"clip":true},
    "encoding":{
     "x":{"field":"x","type":"quantitative","scale":{"domain":[-1.75,0.5],"nice":false,"zero":false},"axis":{"orient":"bottom","values":[-1.5,-1,-0.5,0,0.5],"format":".1f","labelPadding":11,"title":"Log₁₀ [Q₅₀/(1−Q₅₀)]","titlePadding":7}},
     "y":{"field":"y","type":"quantitative","scale":{"domain":[0,0.85],"nice":false,"zero":false},"axis":{"orient":"left","values":[0,0.2,0.4,0.6,0.8],"format":".1f","labelPadding":9,"title":"Q₂₅/Q₇₅","titlePadding":8}}}},
   {"data":{"name":"grid"},"mark":{"type":"line","stroke":"black","strokeWidth":1},
    "encoding":{"x":{"field":"x","type":"quantitative"},"y":{"field":"y","type":"quantitative"},"detail":{"field":"nh","type":"nominal"},"order":{"field":"t","type":"quantitative"}}},
   {"data":{"name":"grid"},"mark":{"type":"line","stroke":"black","strokeWidth":1},
    "encoding":{"x":{"field":"x","type":"quantitative"},"y":{"field":"y","type":"quantitative"},"detail":{"field":"t","type":"nominal"},"order":{"field":"nh","type":"quantitative"}}},
   {"data":{"name":"xa"},"mark":{"type":"rule","color":"black","strokeWidth":1},"encoding":{"x":{"field":"v","type":"quantitative"},"y":{"datum":0,"type":"quantitative"},"y2":{"datum":0.0235}}},
   {"data":{"name":"xa"},"mark":{"type":"rule","color":"black","strokeWidth":1},"encoding":{"x":{"field":"v","type":"quantitative"},"y":{"datum":0.85,"type":"quantitative"},"y2":{"datum":0.8265}}},
   {"data":{"name":"xb"},"mark":{"type":"rule","color":"black","strokeWidth":1},"encoding":{"x":{"field":"v","type":"quantitative"},"y":{"datum":0,"type":"quantitative"},"y2":{"datum":0.0129}}},
   {"data":{"name":"xb"},"mark":{"type":"rule","color":"black","strokeWidth":1},"encoding":{"x":{"field":"v","type":"quantitative"},"y":{"datum":0.85,"type":"quantitative"},"y2":{"datum":0.8371}}},
   {"data":{"name":"ya"},"mark":{"type":"rule","color":"black","strokeWidth":1},"encoding":{"y":{"field":"v","type":"quantitative"},"x":{"datum":-1.75,"type":"quantitative"},"x2":{"datum":-1.7055}}},
   {"data":{"name":"ya"},"mark":{"type":"rule","color":"black","strokeWidth":1},"encoding":{"y":{"field":"v","type":"quantitative"},"x":{"datum":0.5,"type":"quantitative"},"x2":{"datum":0.4555}}},
   {"data":{"name":"yb"},"mark":{"type":"rule","color":"black","strokeWidth":1},"encoding":{"y":{"field":"v","type":"quantitative"},"x":{"datum":-1.75,"type":"quantitative"},"x2":{"datum":-1.7255}}},
   {"data":{"name":"yb"},"mark":{"type":"rule","color":"black","strokeWidth":1},"encoding":{"y":{"field":"v","type":"quantitative"},"x":{"datum":0.5,"type":"quantitative"},"x2":{"datum":0.4755}}},
   {"data":{"name":"glabels"},"mark":{"type":"text","font":"DejaVu Sans","fontSize":10.5,"align":"center","baseline":"middle","color":"black"},
    "encoding":{"x":{"field":"x","type":"quantitative"},"y":{"field":"y","type":"quantitative"},"text":{"field":"text"}}},
   {"data":{"name":"sublabels"},"mark":{"type":"text","font":"DejaVu Sans","fontSize":8,"align":"center","baseline":"middle","color":"black"},
    "encoding":{"x":{"field":"x","type":"quantitative"},"y":{"field":"y","type":"quantitative"},"text":{"field":"text"}}},
   {"data":{"name":"textright"},"mark":{"type":"text","font":"DejaVu Sans","fontSize":15.5,"align":"left","baseline":"middle","color":"black"},
    "encoding":{"x":{"field":"x","type":"quantitative"},"y":{"field":"y","type":"quantitative"},"text":{"field":"text"}}}
  ]
 }
]
}
